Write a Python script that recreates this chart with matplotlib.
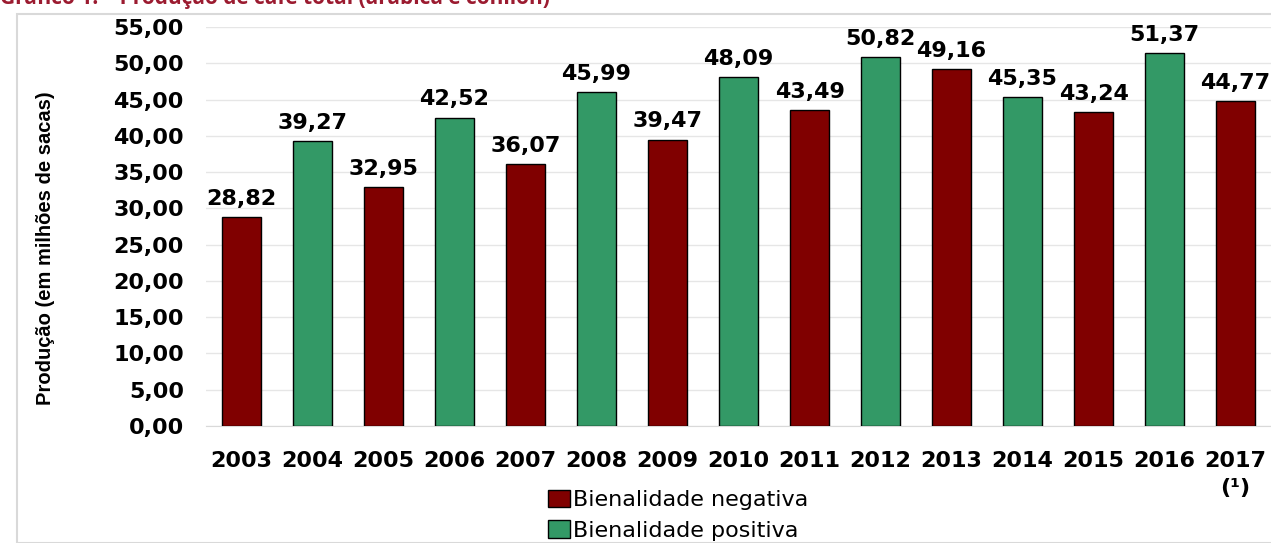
import matplotlib
matplotlib.use("Agg")
import matplotlib.pyplot as plt
from matplotlib.patches import Patch, Rectangle

# Produção de café total (arábica e conilon), em milhões de sacas
anos = ["2003", "2004", "2005", "2006", "2007", "2008", "2009", "2010",
        "2011", "2012", "2013", "2014", "2015", "2016", "2017\n(¹)"]
producao = [28.82, 39.27, 32.95, 42.52, 36.07, 45.99, 39.47, 48.09,
            43.49, 50.82, 49.16, 45.35, 43.24, 51.37, 44.77]
bienalidade = ["neg", "pos", "neg", "pos", "neg", "pos", "neg", "pos",
               "neg", "pos", "neg", "pos", "neg", "pos", "neg"]
y_ticks = [0, 5, 10, 15, 20, 25, 30, 35, 40, 45, 50, 55]

cor_neg = "#800000"
cor_pos = "#339966"

plt.rcParams["font.family"] = ["DejaVu Sans"]

fig = plt.figure(figsize=(12.71, 5.43), dpi=100)

# moldura do gráfico
fig.patches.append(Rectangle((17 / 1271, 0), 1.1, 1 - 14 / 543,
                             transform=fig.transFigure, fill=False,
                             edgecolor="#d9d9d9", linewidth=1.5))

# título (cortado no topo, como no original)
fig.text(0.0, 1.002, "Gráfico 1. – Produção de café total (arábica e conilon)",
         color="#9b1b30", fontsize=15, fontweight="bold",
         family=["Open Sans", "DejaVu Sans"], va="center", ha="left")

ax = fig.add_axes([206 / 1271, 1 - 426 / 543, (1271 - 206) / 1271, (426 - 27) / 543])

x = list(range(len(anos)))
cores = [cor_neg if b == "neg" else cor_pos for b in bienalidade]
ax.bar(x, producao, width=0.54, color=cores, edgecolor="black",
       linewidth=1, zorder=3)

for xi, v in zip(x, producao):
    ax.annotate(f"{v:.2f}".replace(".", ","), (xi, v), xytext=(0, 6),
                textcoords="offset points", ha="center", va="bottom",
                fontsize=16, fontweight="bold")

ax.set_xlim(-0.5, len(anos) - 0.5)
ax.set_ylim(0, 55)
ax.set_yticks(y_ticks)
ax.set_yticklabels([f"{t:.2f}".replace(".", ",") for t in y_ticks],
                   fontsize=16, fontweight="bold")
ax.set_xticks(x)
ax.set_xticklabels(anos, fontsize=16, fontweight="bold", linespacing=1.45)
ax.tick_params(axis="both", length=0)
ax.tick_params(axis="y", pad=16)
ax.tick_params(axis="x", pad=18)
ax.yaxis.grid(True, color="#e6e6e6", linewidth=1, zorder=0)

for s in ["top", "right", "left"]:
    ax.spines[s].set_visible(False)
ax.spines["bottom"].set_color("#d9d9d9")

ax.set_ylabel("Produção (em milhões de sacas)", fontsize=14.5, fontweight="bold",
              family=["Liberation Sans", "DejaVu Sans"])
ax.yaxis.set_label_coords(-0.142, 0.445)

handles = [Patch(facecolor=cor_neg, edgecolor="black", label="Bienalidade negativa"),
           Patch(facecolor=cor_pos, edgecolor="black", label="Bienalidade positiva")]
fig.legend(handles=handles, loc="upper left", bbox_to_anchor=(532 / 1271, 1 - 474 / 543),
           frameon=False, fontsize=16, handlelength=1.0, handleheight=0.85,
           handletextpad=0.14, labelspacing=0.45, borderpad=0.2)

fig.savefig("out.png", dpi=100)
